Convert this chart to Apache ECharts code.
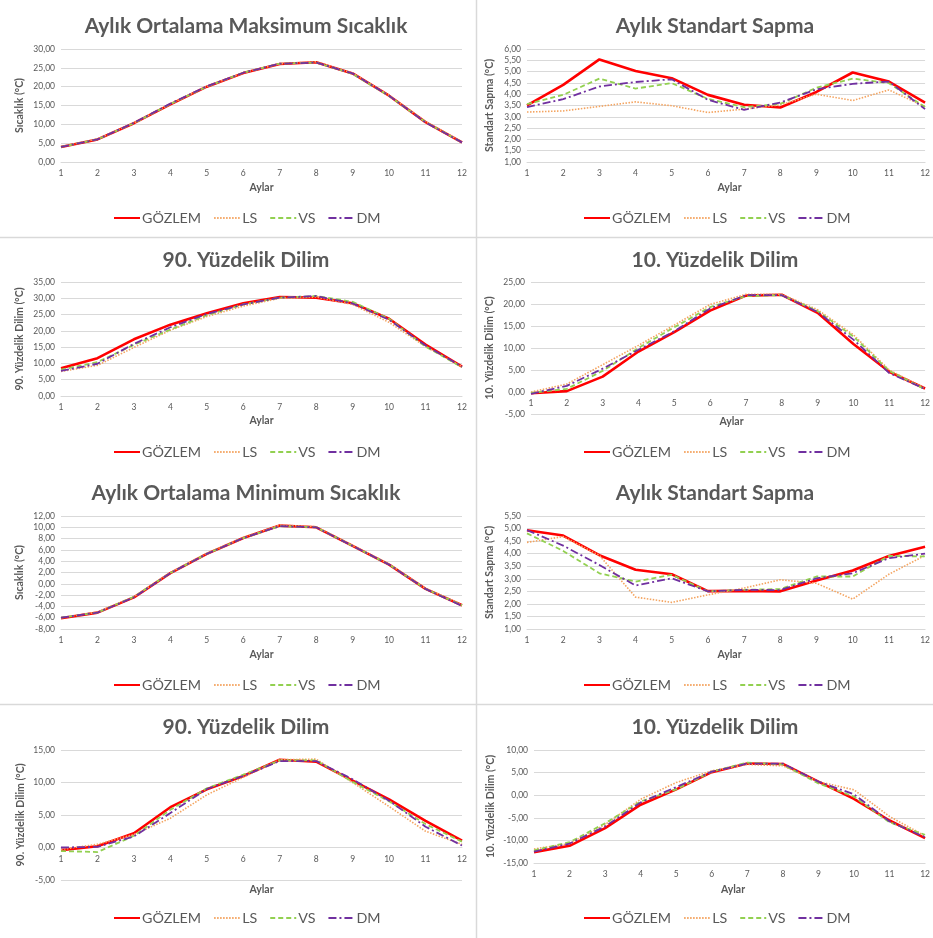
<!DOCTYPE html>
<html>
<head>
<meta charset="utf-8">
<script src="https://cdn.jsdelivr.net/npm/echarts@6/dist/echarts.min.js"></script>
<style>
  html, body { margin: 0; padding: 0; background: #fff; }
  #chart { width: 933px; height: 938px; }
</style>
</head>
<body>
<div id="chart"></div>
<script>
// Months on the category axis
const months = ['1', '2', '3', '4', '5', '6', '7', '8', '9', '10', '11', '12'];
const seriesNames = ['GÖZLEM', 'LS', 'VS', 'DM'];
const xAxisName = 'Aylar';

// Monthly mean maximum temperature
const maxMeanObs = [4.0, 6.0, 10.3, 15.3, 20.0, 23.6, 26.0, 26.5, 23.5, 17.6, 10.6, 5.2];
const maxMeanLS  = [4.1, 6.1, 10.4, 15.4, 20.1, 23.7, 26.1, 26.6, 23.6, 17.7, 10.7, 5.3];
const maxMeanVS  = [4.0, 6.0, 10.3, 15.4, 20.0, 23.7, 26.1, 26.4, 23.4, 17.5, 10.6, 5.2];
const maxMeanDM  = [4.0, 6.0, 10.4, 15.5, 20.1, 23.7, 26.1, 26.4, 23.5, 17.6, 10.5, 5.2];

// Monthly standard deviation of maximum temperature
const maxStdObs = [3.51, 4.41, 5.54, 5.03, 4.71, 3.97, 3.53, 3.41, 4.10, 4.96, 4.56, 3.63];
const maxStdLS  = [3.21, 3.26, 3.46, 3.66, 3.49, 3.19, 3.34, 3.53, 4.00, 3.72, 4.19, 3.45];
const maxStdVS  = [3.56, 3.97, 4.69, 4.25, 4.49, 3.79, 3.43, 3.57, 4.29, 4.69, 4.49, 3.43];
const maxStdDM  = [3.43, 3.78, 4.34, 4.54, 4.66, 3.75, 3.31, 3.63, 4.22, 4.46, 4.56, 3.34];

// 90th percentile of maximum temperature
const maxP90Obs = [8.5, 11.6, 17.4, 21.9, 25.4, 28.5, 30.4, 30.2, 28.5, 23.7, 15.8, 9.0];
const maxP90LS  = [7.5, 9.4, 14.9, 20.2, 24.4, 27.6, 30.0, 30.4, 28.1, 22.6, 15.2, 9.0];
const maxP90VS  = [8.1, 10.4, 15.7, 20.4, 24.8, 28.1, 30.2, 30.7, 28.9, 23.7, 15.2, 8.8];
const maxP90DM  = [7.7, 9.9, 16.0, 21.1, 25.2, 28.1, 30.2, 30.7, 28.4, 23.4, 15.5, 9.0];

// 10th percentile of maximum temperature
const maxP10Obs = [-0.3, 0.2, 3.5, 9.2, 13.6, 18.5, 21.9, 22.1, 18.0, 10.9, 4.6, 0.8];
const maxP10LS  = [0.0, 1.8, 6.2, 10.6, 15.2, 19.9, 22.2, 22.2, 18.7, 13.0, 5.0, 0.8];
const maxP10VS  = [-0.2, 0.7, 4.8, 10.0, 14.7, 19.3, 21.8, 22.0, 18.4, 12.6, 4.8, 0.6];
const maxP10DM  = [-0.4, 1.4, 5.3, 9.6, 13.8, 19.0, 22.0, 22.0, 18.2, 11.9, 4.3, 0.7];

// Monthly mean minimum temperature
const minMeanObs = [-6.1, -5.1, -2.4, 1.9, 5.3, 8.1, 10.3, 10.0, 6.7, 3.4, -0.9, -3.8];
const minMeanLS  = [-6.0, -5.0, -2.3, 2.0, 5.4, 8.2, 10.4, 10.1, 6.8, 3.5, -0.8, -3.7];
const minMeanVS  = [-6.0, -5.1, -2.3, 1.9, 5.3, 8.1, 10.2, 10.0, 6.7, 3.4, -0.9, -3.8];
const minMeanDM  = [-6.0, -5.1, -2.4, 1.9, 5.3, 8.1, 10.2, 10.0, 6.7, 3.4, -0.9, -3.9];

// Monthly standard deviation of minimum temperature
const minStdObs = [4.93, 4.72, 3.94, 3.36, 3.18, 2.51, 2.52, 2.50, 2.93, 3.33, 3.91, 4.28];
const minStdLS  = [4.45, 4.68, 3.93, 2.27, 2.06, 2.36, 2.63, 2.96, 2.82, 2.19, 3.18, 3.93];
const minStdVS  = [4.81, 4.11, 3.22, 2.89, 3.16, 2.50, 2.56, 2.59, 3.09, 3.09, 3.91, 3.89];
const minStdDM  = [4.94, 4.32, 3.55, 2.73, 3.02, 2.50, 2.56, 2.55, 3.02, 3.22, 3.82, 4.00];

// 90th percentile of minimum temperature
const minP90Obs = [-0.4, 0.2, 2.2, 6.2, 8.95, 11.0, 13.5, 13.2, 10.3, 7.4, 4.1, 1.05];
const minP90LS  = [-0.3, 0.5, 2.0, 4.5, 8.1, 10.8, 13.5, 13.6, 10.0, 6.3, 2.5, 0.5];
const minP90VS  = [-0.55, -0.7, 1.8, 5.8, 9.1, 11.2, 13.4, 13.4, 10.1, 7.1, 3.6, 0.9];
const minP90DM  = [0.0, 0.1, 1.7, 5.3, 9.0, 11.0, 13.3, 13.3, 10.5, 7.2, 3.2, 0.3];

// 10th percentile of minimum temperature
const minP10Obs = [-12.6, -11.2, -7.3, -2.1, 1.3, 5.1, 7.0, 6.9, 3.0, -0.8, -5.6, -9.5];
const minP10LS  = [-11.9, -10.7, -6.5, -0.9, 2.8, 5.4, 6.8, 6.5, 3.0, 1.2, -4.7, -9.0];
const minP10VS  = [-12.2, -10.4, -6.2, -1.4, 1.3, 5.2, 7.2, 6.8, 2.6, -0.3, -6.0, -8.75];
const minP10DM  = [-12.5, -10.7, -6.9, -1.6, 1.8, 5.2, 7.0, 7.0, 3.0, 0.2, -5.8, -9.3];

// Panel definitions: text, value range and series for each chart
const panelData = [
  { title: 'Aylık Ortalama Maksimum Sıcaklık', yName: 'Sıcaklık (°C)', min: 0, max: 30, step: 5,
    values: [maxMeanObs, maxMeanLS, maxMeanVS, maxMeanDM] },
  { title: 'Aylık Standart Sapma', yName: 'Standart Sapma (°C)', min: 1, max: 6, step: 0.5,
    values: [maxStdObs, maxStdLS, maxStdVS, maxStdDM] },
  { title: '90. Yüzdelik Dilim', yName: '90. Yüzdelik Dilim (°C)', min: 0, max: 35, step: 5,
    values: [maxP90Obs, maxP90LS, maxP90VS, maxP90DM] },
  { title: '10. Yüzdelik Dilim', yName: '10. Yüzdelik Dilim (°C)', min: -5, max: 25, step: 5,
    values: [maxP10Obs, maxP10LS, maxP10VS, maxP10DM] },
  { title: 'Aylık Ortalama Minimum Sıcaklık', yName: 'Sıcaklık (°C)', min: -8, max: 12, step: 2,
    values: [minMeanObs, minMeanLS, minMeanVS, minMeanDM] },
  { title: 'Aylık Standart Sapma', yName: 'Standart Sapma (°C)', min: 1, max: 5.5, step: 0.5,
    values: [minStdObs, minStdLS, minStdVS, minStdDM] },
  { title: '90. Yüzdelik Dilim', yName: '90. Yüzdelik Dilim (°C)', min: -5, max: 15, step: 5,
    values: [minP90Obs, minP90LS, minP90VS, minP90DM] },
  { title: '10. Yüzdelik Dilim', yName: '10. Yüzdelik Dilim (°C)', min: -15, max: 10, step: 5,
    values: [minP10Obs, minP10LS, minP10VS, minP10DM] }
];

// Layout of each panel in pixels (xNameY is the vertical centre of the "Aylar" caption;
// axisAtZero puts the month axis on the zero line instead of the plot bottom)
const layout = [
  { left: 61,  top: 49,  width: 401, height: 113, cx: 241, titleTop: 11,  legendLeft: 113, legendTop: 211, axisAtZero: false, xNameY: 188, yGap: 36 },
  { left: 527, top: 49,  width: 405, height: 113, cx: 710, titleTop: 11,  legendLeft: 583, legendTop: 211, axisAtZero: false, xNameY: 188, yGap: 32 },
  { left: 61,  top: 282, width: 401, height: 114, cx: 241, titleTop: 245, legendLeft: 113, legendTop: 445, axisAtZero: false, xNameY: 421, yGap: 36 },
  { left: 531, top: 282, width: 401, height: 132, cx: 710, titleTop: 245, legendLeft: 583, legendTop: 445, axisAtZero: true,  xNameY: 422, yGap: 36 },
  { left: 61,  top: 516, width: 401, height: 113, cx: 241, titleTop: 478, legendLeft: 113, legendTop: 678, axisAtZero: false, xNameY: 655, yGap: 36 },
  { left: 527, top: 516, width: 405, height: 113, cx: 710, titleTop: 478, legendLeft: 583, legendTop: 678, axisAtZero: false, xNameY: 655, yGap: 32 },
  { left: 61,  top: 750, width: 401, height: 130, cx: 241, titleTop: 712, legendLeft: 113, legendTop: 911, axisAtZero: true,  xNameY: 890, yGap: 35 },
  { left: 534, top: 750, width: 398, height: 113, cx: 710, titleTop: 712, legendLeft: 583, legendTop: 911, axisAtZero: false, xNameY: 890, yGap: 38 }
];

const FONT = 'Lato, "Noto Sans", sans-serif';
const TEXT = '#595959';
const GRIDLINE = '#d9d9d9';
const NAME_SIZE = 10.5;

// Line appearance per series
const lineStyles = [
  { color: '#ff0000', width: 2.6, type: 'solid' },
  { color: '#f4a460', width: 1.6, type: [1.5, 1.5] },
  { color: '#92d050', width: 1.8, type: [5, 3] },
  { color: '#7030a0', width: 1.8, type: [8, 3, 2, 3] }
];

const fmt = v => v.toFixed(2).replace('.', ',');

const option = {
  animation: false,
  backgroundColor: '#ffffff',
  title: [], legend: [], grid: [], xAxis: [], yAxis: [], series: [],
  graphic: [
    { type: 'line', shape: { x1: 476.5, y1: 0, x2: 476.5, y2: 938 }, style: { stroke: GRIDLINE, lineWidth: 1.5 } },
    { type: 'line', shape: { x1: 0, y1: 237.5, x2: 933, y2: 237.5 }, style: { stroke: GRIDLINE, lineWidth: 1.5 } },
    { type: 'line', shape: { x1: 0, y1: 704.5, x2: 933, y2: 704.5 }, style: { stroke: GRIDLINE, lineWidth: 1.5 } }
  ]
};

panelData.forEach((p, i) => {
  const L = layout[i];
  // distance from the plot bottom up to the zero line of the value axis
  const zeroLift = L.axisAtZero ? L.height * (0 - p.min) / (p.max - p.min) : 0;
  option.title.push({
    text: p.title, left: L.cx, top: L.titleTop, textAlign: 'center',
    textStyle: { fontFamily: FONT, fontSize: 21, fontWeight: 'bold', color: TEXT }
  });
  // "Aylar" caption centred under the plot area
  option.title.push({
    text: xAxisName, left: L.left + L.width / 2, top: L.xNameY - 7, textAlign: 'center', padding: 0,
    textStyle: { fontFamily: FONT, fontSize: NAME_SIZE, fontWeight: 'bold', color: TEXT, lineHeight: 14 }
  });
  option.legend.push({
    data: seriesNames, left: L.legendLeft, top: L.legendTop, padding: 0,
    itemWidth: 26, itemHeight: 14, itemGap: 12,
    itemStyle: { opacity: 0 },
    textStyle: { fontFamily: FONT, fontSize: 14.3, color: TEXT, padding: [0, 0, 0, -3] },
    selectedMode: false
  });
  option.grid.push({ left: L.left, top: L.top, width: L.width, height: L.height, containLabel: false });
  option.xAxis.push({
    type: 'category', gridIndex: i, data: months, boundaryGap: false,
    position: 'bottom', offset: -zeroLift,
    axisLine: { onZero: false, lineStyle: { color: GRIDLINE, width: 1 } },
    axisTick: { show: false },
    axisLabel: { interval: 0, fontFamily: FONT, fontSize: 8.5, color: TEXT, margin: 7 },
    splitLine: { show: false }
  });
  option.yAxis.push({
    type: 'value', gridIndex: i, min: p.min, max: p.max, interval: p.step,
    name: p.yName, nameLocation: 'middle', nameGap: L.yGap, nameRotate: 90,
    nameTextStyle: { fontFamily: FONT, fontSize: NAME_SIZE, fontWeight: 'bold', color: TEXT },
    axisLine: { show: false }, axisTick: { show: false },
    axisLabel: { fontFamily: FONT, fontSize: 8.5, color: TEXT, margin: 6, formatter: fmt },
    splitLine: { lineStyle: { color: GRIDLINE, width: 1 } }
  });
  p.values.forEach((vals, k) => {
    option.series.push({
      type: 'line', name: seriesNames[k], xAxisIndex: i, yAxisIndex: i,
      data: vals, symbol: 'none', smooth: false, z: 2 + k,
      lineStyle: lineStyles[k], itemStyle: { color: lineStyles[k].color }
    });
  });
});

const chart = echarts.init(document.getElementById('chart'), null, { renderer: 'canvas' });
chart.setOption(option);
</script>
</body>
</html>
